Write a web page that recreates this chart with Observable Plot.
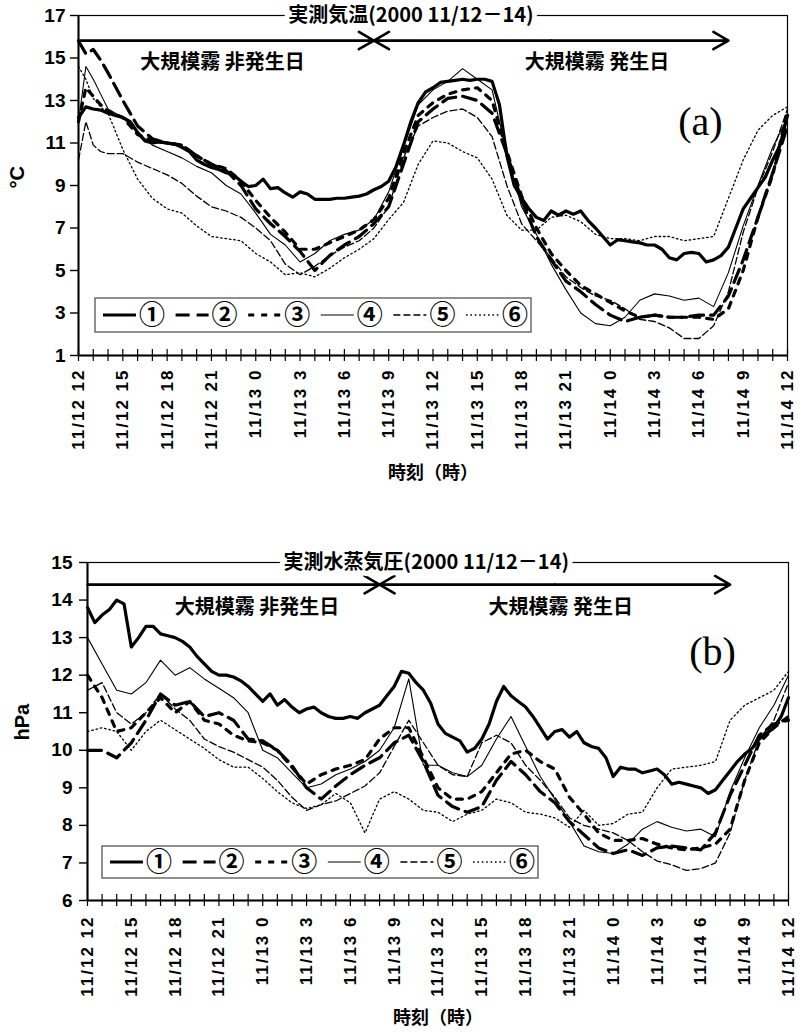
<!DOCTYPE html>
<html>
<head>
<meta charset="utf-8">
<script src="https://cdn.jsdelivr.net/npm/d3@7"></script>
<script src="https://cdn.jsdelivr.net/npm/@observablehq/plot@0.6"></script>
<style>
  body { margin: 0; background: #fff; }
  #chart { width: 807px; }
  #chart svg { display: block; }
  #chart g[aria-label="x-axis tick label"] text { letter-spacing: 2px; }
</style>
</head>
<body>
<div id="chart"></div>
<script>
// Observation times, hours after 11/12 12:00 (2000).
const hoursA = [0, 0.5, 1, 1.5, 2, 3, 4, 5, 6, 7, 8, 9, 10, 11, 12, 13, 14, 15, 16, 17, 18, 19, 20, 21, 22, 23, 24,
  25, 26, 27, 28, 29, 30, 31, 32, 33, 34, 35, 36, 37, 38, 39, 40, 41, 42, 43, 44, 45, 46, 47, 48];
const hoursB = [0, 1, 2, 3, 4, 5, 6, 7, 8, 9, 10, 11, 12, 13, 14, 15, 16, 17, 18, 19, 20, 21, 22, 23, 24,
  25, 26, 27, 28, 29, 30, 31, 32, 33, 34, 35, 36, 37, 38, 39, 40, 41, 42, 43, 44, 45, 46, 47, 48];
const hoursHalf = [0, 0.5, 1, 1.5, 2, 2.5, 3, 3.5, 4, 4.5, 5, 5.5, 6, 6.5, 7, 7.5, 8, 8.5, 9, 9.5, 10, 10.5, 11, 11.5,
  12, 12.5, 13, 13.5, 14, 14.5, 15, 15.5, 16, 16.5, 17, 17.5, 18, 18.5, 19, 19.5, 20, 20.5, 21, 21.5, 22, 22.5, 23, 23.5,
  24, 24.5, 25, 25.5, 26, 26.5, 27, 27.5, 28, 28.5, 29, 29.5, 30, 30.5, 31, 31.5, 32, 32.5, 33, 33.5, 34, 34.5, 35, 35.5,
  36, 36.5, 37, 37.5, 38, 38.5, 39, 39.5, 40, 40.5, 41, 41.5, 42, 42.5, 43, 43.5, 44, 44.5, 45, 45.5, 46, 46.5, 47, 47.5, 48];

// Tick labels every 3 hours
const labelHours = [0, 3, 6, 9, 12, 15, 18, 21, 24, 27, 30, 33, 36, 39, 42, 45, 48];
const tickLabels = ["11/12 12", "11/12 15", "11/12 18", "11/12 21", "11/13 0", "11/13 3", "11/13 6", "11/13 9",
  "11/13 12", "11/13 15", "11/13 18", "11/13 21", "11/14 0", "11/14 3", "11/14 6", "11/14 9", "11/14 12"];

// Station names
const seriesNames = ["①", "②", "③", "④", "⑤", "⑥"];

// (a) observed air temperature, °C
const tempS1 = [12.2, 12.7, 12.6, 12.55, 12.4, 12.3, 12.2, 12.0, 11.5, 11.1, 11.0, 11.05, 11.0, 10.95, 10.8, 10.6,
  10.2, 10.0, 9.85, 9.75, 9.6, 9.5, 9.2, 8.95, 9.0, 9.3, 8.85, 8.9, 8.65, 8.45, 8.7, 8.6, 8.35, 8.35, 8.35, 8.4,
  8.4, 8.45, 8.5, 8.6, 8.8, 8.95, 9.2, 9.9, 10.9, 12.0, 12.9, 13.4, 13.6, 13.85, 13.9, 13.95, 14.0, 13.95, 14.0, 14.0,
  13.9, 12.8, 10.4, 9.0, 8.4, 7.9, 7.5, 7.35, 7.8, 7.6, 7.8, 7.65, 7.8, 7.35, 7.0, 6.6, 6.2, 6.45, 6.4, 6.35,
  6.3, 6.2, 6.2, 6.0, 5.6, 5.5, 5.8, 5.85, 5.8, 5.4, 5.5, 5.7, 6.1, 7.0, 7.9, 8.4, 8.9, 9.4, 10.2, 10.9, 12.3];
const tempS2 = [15.8, 15.2, 15.4, 14.9, 14.3, 13.0, 11.8, 11.2, 11.0, 10.9, 10.4, 10.0, 9.7, 9.0, 7.9,
  7.2, 6.6, 5.9, 5.0, 5.7, 6.2, 6.6, 7.2, 8.0, 10.0, 12.0, 12.6, 13.1, 13.2, 13.0, 12.4, 10.5, 8.3, 6.6, 5.5,
  4.5, 4.0, 3.4, 2.9, 2.6, 2.8, 2.9, 2.8, 2.8, 2.9, 2.9, 3.8, 5.5, 7.5, 9.6, 11.8];
const tempS3 = [12.0, 13.6, 13.2, 12.8, 12.5, 12.2, 11.4, 11.1, 11.0, 10.9, 10.4, 10.0, 9.8, 9.2, 8.3,
  7.5, 6.8, 6.0, 6.0, 6.3, 6.6, 6.9, 7.4, 8.4, 10.5, 12.3, 12.9, 13.3, 13.5, 13.6, 13.0, 10.6, 8.5, 7.0, 5.8,
  5.0, 4.3, 3.9, 3.5, 3.1, 2.8, 2.9, 2.8, 2.8, 2.8, 2.7, 3.2, 5.0, 7.5, 9.5, 12.5];
const tempS4 = [12.0, 14.6, 14.0, 13.3, 12.6, 12.2, 11.5, 10.9, 10.6, 10.3, 9.9, 9.6, 9.0, 8.6, 7.7,
  6.7, 6.2, 5.4, 5.8, 6.4, 6.7, 6.9, 7.4, 8.7, 10.8, 12.8, 13.5, 13.9, 14.5, 14.0, 13.5, 10.5, 8.0, 6.7, 5.3,
  4.1, 3.0, 2.5, 2.4, 2.8, 3.6, 3.9, 3.8, 3.6, 3.7, 3.3, 4.9, 7.1, 9.0, 10.8, 12.2];
const tempS5 = [10.2, 12.0, 10.9, 10.6, 10.5, 10.5, 10.1, 9.8, 9.5, 9.1, 8.5, 8.0, 7.8, 7.5, 7.0,
  6.4, 5.3, 4.8, 5.2, 5.7, 6.1, 6.4, 7.0, 8.0, 10.3, 11.8, 12.2, 12.5, 12.6, 12.2, 11.3, 9.0, 7.2, 6.4, 5.6,
  4.7, 4.2, 3.8, 3.6, 3.2, 2.7, 2.6, 2.3, 1.8, 1.8, 2.4, 4.0, 6.8, 8.9, 10.6, 12.6];
const tempS6 = [14.6, 14.0, 13.1, 12.7, 12.4, 10.7, 9.3, 8.4, 7.9, 7.7, 7.1, 6.6, 6.5, 6.4, 5.8,
  5.4, 4.8, 4.9, 4.7, 5.1, 5.6, 6.0, 6.5, 7.4, 8.2, 10.0, 11.1, 11.0, 10.6, 10.3, 9.3, 7.6, 6.9, 6.9, 7.5,
  7.6, 7.3, 6.7, 6.5, 6.5, 6.4, 6.6, 6.6, 6.4, 6.5, 6.6, 8.4, 10.2, 11.6, 12.3, 12.7];

// (b) observed water vapour pressure, hPa
const vpS1 = [13.8, 13.4, 13.6, 13.75, 14.0, 13.9, 12.75, 13.0, 13.3, 13.3, 13.1, 13.05, 13.0, 12.9, 12.75, 12.5,
  12.3, 12.1, 12.0, 12.0, 11.95, 11.85, 11.7, 11.5, 11.3, 11.5, 11.2, 11.35, 11.15, 11.0, 11.1, 11.15,
  11.0, 10.9, 10.85, 10.85, 10.9, 10.85, 11.0, 11.1, 11.2, 11.45, 11.7, 12.1, 12.05, 11.8, 11.6, 11.25,
  10.7, 10.45, 10.35, 10.25, 9.95, 10.05, 10.3, 10.7, 11.3, 11.7, 11.45, 11.3, 11.15, 10.9, 10.6, 10.3,
  10.5, 10.55, 10.35, 10.5, 10.2, 10.1, 10.05, 9.8, 9.3, 9.55, 9.5, 9.5, 9.4, 9.45, 9.5, 9.35,
  9.1, 9.15, 9.1, 9.05, 9.0, 8.85, 8.95, 9.2, 9.45, 9.7, 9.9, 10.05, 10.3, 10.45, 10.6, 10.9, 11.4];
const vpS2 = [10.0, 10.0, 9.8, 10.2, 10.8, 11.5, 11.2, 11.3, 10.9, 11.0,
  10.8, 10.3, 10.25, 10.0, 9.6, 9.0, 8.7, 9.05, 9.35, 9.6,
  9.8, 10.2, 10.4, 9.7, 8.8, 8.5, 8.35, 8.5, 9.2, 9.7,
  9.35, 8.9, 8.6, 8.1, 7.75, 7.4, 7.25, 7.35, 7.2, 7.4,
  7.45, 7.4, 7.35, 7.8, 8.8, 9.6, 10.4, 10.7, 10.8];
const vpS3 = [12.0, 11.4, 10.5, 10.6, 11.0, 11.4, 11.0, 11.3, 10.8, 10.7,
  10.4, 10.25, 10.2, 10.0, 9.55, 9.1, 9.35, 9.5, 9.6, 9.75,
  10.3, 10.6, 10.6, 9.8, 9.0, 8.7, 8.7, 8.9, 9.4, 9.9,
  10.0, 9.7, 9.5, 8.75, 8.3, 7.8, 7.6, 7.6, 7.65, 7.5,
  7.4, 7.35, 7.4, 7.5, 7.9, 9.2, 10.2, 10.6, 10.9];
const vpS4 = [13.0, 12.3, 11.6, 11.5, 11.8, 12.4, 12.0, 12.2, 11.9, 11.65,
  11.4, 11.0, 10.0, 9.8, 9.4, 9.0, 9.1, 9.35, 9.5, 9.7,
  10.0, 10.6, 11.9, 9.6, 9.6, 9.4, 9.3, 9.6, 10.3, 10.9,
  10.1, 9.3, 8.7, 8.1, 7.45, 7.3, 7.25, 7.5, 7.9, 8.1,
  7.95, 7.85, 7.9, 7.7, 8.9, 9.8, 10.6, 11.2, 12.0];
const vpS5 = [11.6, 11.8, 11.0, 10.7, 11.0, 11.5, 11.1, 10.8, 10.3, 10.1,
  9.95, 9.75, 9.55, 9.2, 8.75, 8.4, 8.55, 8.65, 8.85, 9.05,
  9.4, 10.1, 10.8, 10.2, 9.6, 9.35, 9.3, 10.2, 10.4, 10.2,
  9.6, 9.2, 8.75, 8.2, 8.0, 7.9, 7.8, 7.6, 7.3, 7.05,
  6.95, 6.8, 6.85, 7.0, 7.8, 9.2, 10.3, 10.8, 11.8];
const vpS6 = [10.5, 10.6, 10.5, 10.0, 10.5, 10.8, 10.55, 10.3, 10.05, 9.75,
  9.55, 9.55, 9.25, 8.9, 8.6, 8.45, 8.55, 8.85, 8.6, 7.8,
  8.7, 8.9, 8.7, 8.4, 8.35, 8.1, 8.3, 8.4, 8.7, 8.6,
  8.35, 8.3, 8.2, 7.95, 8.4, 8.0, 8.05, 8.3, 8.35, 9.0,
  9.5, 9.55, 9.6, 9.7, 10.8, 11.2, 11.4, 11.6, 12.1];

// Period arrows: non-fog days up to 11/13 8:00, large-scale fog days to 11/14 8:00
const arrowSpans = [{x1: 0, x2: 20}, {x1: 32, x2: 20}, {x1: 32, x2: 44}];

const lineStyles = [
  {strokeWidth: 3.2, strokeDasharray: null},
  {strokeWidth: 3.2, strokeDasharray: "14,7"},
  {strokeWidth: 3.2, strokeDasharray: "6,7"},
  {strokeWidth: 1.1, strokeDasharray: null},
  {strokeWidth: 1.3, strokeDasharray: "7,3"},
  {strokeWidth: 1.3, strokeDasharray: "1.6,2.8"}
];

const cjk = "'Noto Sans CJK JP', 'Noto Sans CJK SC', sans-serif";
const latin = "'Liberation Sans', Arial, Helvetica, sans-serif";

// One row per (series, time); each series carries its own time grid
function rowsOf(seriesList) {
  return seriesList.flatMap(([hours, vals], s) => vals.map((v, j) => ({h: hours[j], v, s})));
}

function drawLegend(svg, box) {
  const g = d3.select(svg).append("g").attr("aria-label", "legend");
  g.append("rect")
    .attr("x", box.x).attr("y", box.y).attr("width", box.w).attr("height", box.h)
    .attr("fill", "white").attr("stroke", "#555").attr("stroke-width", 1.3);
  const cy = box.y + box.h / 2;
  seriesNames.forEach((name, i) => {
    const x0 = box.x + 8 + i * 72.6;
    const st = lineStyles[i];
    g.append("line")
      .attr("x1", x0).attr("x2", x0 + 33).attr("y1", cy).attr("y2", cy)
      .attr("stroke", "black").attr("stroke-width", st.strokeWidth)
      .attr("stroke-dasharray", st.strokeDasharray);
    g.append("text")
      .attr("x", x0 + 49).attr("y", cy).attr("dy", "0.36em")
      .attr("text-anchor", "middle").attr("font-family", cjk).attr("font-size", 26)
      .attr("font-weight", "bold").attr("fill", "black").text(name);
  });
}

function panel(cfg) {
  const rows = rowsOf(cfg.series);
  const [y0, y1] = cfg.yDomain;
  const arrows = arrowSpans.map(d => ({...d, y: cfg.arrowY}));
  const svg = Plot.plot({
    width: 807,
    height: cfg.height,
    marginLeft: cfg.marginLeft,
    marginRight: cfg.marginRight,
    marginTop: cfg.marginTop,
    marginBottom: cfg.marginBottom,
    x: {domain: [0, 48]},
    y: {domain: [y0, y1]},
    style: {fontFamily: latin, color: "black", background: "white", overflow: "visible"},
    marks: [
      Plot.frame({stroke: "black", strokeWidth: 1.2}),
      Plot.ruleX([0], {stroke: "black", strokeWidth: 2}),
      Plot.ruleY([y0], {stroke: "black", strokeWidth: 2}),
      Plot.ruleX(hoursB, {x: d => d, y1: y0, y2: y0, insetTop: -6, insetBottom: -6, stroke: "black", strokeWidth: 1.2}),
      Plot.axisY(cfg.yTicks, {tickSize: 8, tickPadding: cfg.yPad, fontSize: 19, fontWeight: "bold", label: null, strokeWidth: 1.4}),
      Plot.axisX(labelHours, {
        tickSize: 0, tickPadding: cfg.xPad, tickRotate: -90, label: null,
        tickFormat: d => tickLabels[labelHours.indexOf(d)], fontSize: 17, fontWeight: "bold"
      }),
      ...lineStyles.map((st, i) => Plot.line(rows.filter(d => d.s === i), {
        x: "h", y: "v", stroke: "black", strokeWidth: st.strokeWidth,
        strokeDasharray: st.strokeDasharray ?? undefined, strokeLinejoin: "round"
      })),
      Plot.arrow(arrows, {x1: "x1", y1: "y", x2: "x2", y2: "y", bend: 0, stroke: "black", strokeWidth: 2.6, headLength: 10, headAngle: 60}),
      Plot.text([{h: cfg.titleX, v: y1, t: cfg.title}], {
        x: "h", y: "v", text: "t", fontFamily: cjk, fontSize: 20, fontWeight: "bold",
        fill: "black", stroke: "white", strokeWidth: 10, paintOrder: "stroke"
      }),
      Plot.text(cfg.regions, {x: "h", y: "v", text: "t", fontFamily: cjk, fontSize: 20, fontWeight: "bold", fill: "black"}),
      Plot.text([cfg.tag], {x: "h", y: "v", text: "t", fontFamily: "'Liberation Serif', 'Times New Roman', serif", fontSize: 40, fill: "black"}),
      Plot.text([cfg.unit], {text: d => d, frameAnchor: "left", rotate: -90, dx: cfg.unitDx, dy: cfg.unitDy, fontSize: 20, fontWeight: "bold", fill: "black"}),
      Plot.text(["時刻（時）"], {text: d => d, frameAnchor: "bottom", dy: cfg.xLabelDy, fontFamily: cjk, fontSize: 18, fontWeight: "bold", fill: "black"})
    ]
  });
  drawLegend(svg, cfg.legend);
  return svg;
}

const chart = document.getElementById("chart");

chart.appendChild(panel({
  series: [[hoursHalf, tempS1], [hoursA, tempS2], [hoursA, tempS3], [hoursA, tempS4], [hoursA, tempS5], [hoursA, tempS6]],
  height: 500, marginLeft: 78, marginRight: 20, marginTop: 15, marginBottom: 145,
  yDomain: [1, 17], yTicks: [1, 3, 5, 7, 9, 11, 13, 15, 17], yPad: 5, xPad: 13,
  arrowY: 15.82,
  title: "実測気温(2000 11/12－14)", titleX: 22.5,
  regions: [{h: 9.75, v: 14.79, t: "大規模霧 非発生日"}, {h: 35.1, v: 14.79, t: "大規模霧 発生日"}],
  tag: {h: 42.1, v: 11.96, t: "(a)"},
  unit: "°C", unitDx: -61, unitDy: 3, xLabelDy: 123,
  legend: {x: 95, y: 298, w: 436, h: 34}
}));

chart.appendChild(panel({
  series: [[hoursHalf, vpS1], [hoursB, vpS2], [hoursB, vpS3], [hoursB, vpS4], [hoursB, vpS5], [hoursB, vpS6]],
  height: 535, marginLeft: 87, marginRight: 19, marginTop: 62, marginBottom: 135,
  yDomain: [6, 15], yTicks: [6, 7, 8, 9, 10, 11, 12, 13, 14, 15], yPad: 7, xPad: 15,
  arrowY: 14.41,
  title: "実測水蒸気圧(2000 11/12－14)", titleX: 23.2,
  regions: [{h: 11.6, v: 13.8, t: "大規模霧 非発生日"}, {h: 32.4, v: 13.8, t: "大規模霧 発生日"}],
  tag: {h: 42.8, v: 12.6, t: "(b)"},
  unit: "hPa", unitDx: -65, unitDy: 9, xLabelDy: 123,
  legend: {x: 102, y: 346, w: 436, h: 32}
}));
</script>
</body>
</html>
